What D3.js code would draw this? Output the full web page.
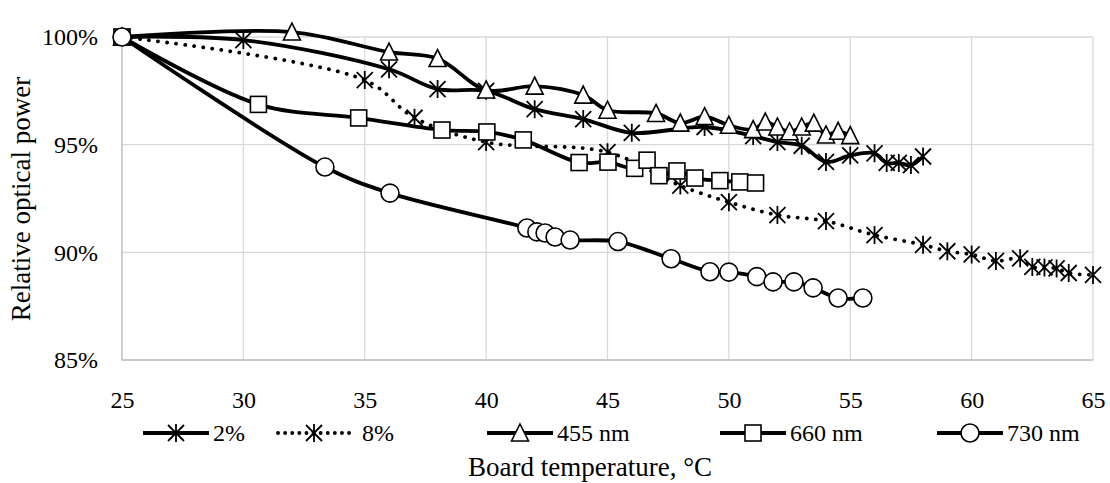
<!DOCTYPE html>
<html><head><meta charset="utf-8">
<script src="https://cdn.jsdelivr.net/npm/d3@7"></script>
<style>
html,body{margin:0;padding:0;background:#fff;}
svg text{font-family:"Liberation Serif","Times New Roman",serif;fill:#000;}
</style></head>
<body><svg id="c" width="1110" height="483"></svg>
<script>
// ---- data ----
const seriesNames = ["2%", "8%", "455 nm", "660 nm", "730 nm"];
const x2 = [25,30,36,38,40,42,44,46,49,51,52,53,54,55,56,56.5,57,57.5,58];
const y2 = [100,99.86,98.5,97.58,97.5,96.65,96.19,95.55,95.82,95.4,95.12,94.95,94.2,94.5,94.6,94.15,94.15,94.05,94.45];
const x8 = [25,35,37.05,40,45,48,50,52,54,56,58,59,60,61,62,62.5,63,63.5,64,65];
const y8 = [100,98.0,96.25,95.12,94.65,93.1,92.33,91.73,91.45,90.8,90.35,90.05,89.9,89.6,89.72,89.32,89.3,89.25,89.04,88.95];
const x455 = [25,32,36,38,40,42,44,45,47,48,49,50,51,51.5,52,52.5,53,53.5,54,54.5,55];
const y455 = [100,100.23,99.3,99.0,97.54,97.72,97.3,96.6,96.45,96.0,96.3,95.9,95.7,96.05,95.82,95.6,95.82,96.0,95.45,95.62,95.42];
const x660 = [25,30.62,34.75,38.18,40.03,41.53,43.83,45.02,46.12,46.63,47.12,47.86,48.6,49.63,50.45,51.1];
const y660 = [100,96.87,96.24,95.68,95.59,95.22,94.17,94.19,93.9,94.28,93.56,93.78,93.45,93.33,93.27,93.22];
const x730 = [25,33.36,36.04,41.68,42.09,42.43,42.84,43.46,45.43,47.62,49.22,50.0,51.15,51.82,52.68,53.47,54.5,55.52];
const y730 = [100,93.96,92.75,91.13,90.95,90.9,90.71,90.57,90.5,89.7,89.1,89.08,88.87,88.63,88.63,88.35,87.88,87.88];
const xTicks = [25,30,35,40,45,50,55,60,65];
const yTicks = [85,90,95,100];
const xTitle = "Board temperature, °C";
const yTitle = "Relative optical power";

const seriesX = [x2, x8, x455, x660, x730];
const seriesY = [y2, y8, y455, y660, y730];
const markers = ["star", "star", "triangle", "square", "circle"];
const dashed = [false, true, false, false, false];

// ---- layout ----
const L = 122, R = 1093, T = 37, B = 360;
const svg = d3.select("#c");
const x = d3.scaleLinear().domain([25, 65]).range([L, R]);
const y = d3.scaleLinear().domain([85, 100]).range([B, T]);

// gridlines
const g = svg.append("g");
g.selectAll(".hg").data(yTicks).join("line")
  .attr("x1", L).attr("x2", R).attr("y1", d => y(d)).attr("y2", d => y(d))
  .attr("stroke", "#d9d9d9").attr("stroke-width", 1.3);
g.selectAll(".vg").data(xTicks.slice(1)).join("line")
  .attr("x1", d => x(d)).attr("x2", d => x(d)).attr("y1", T).attr("y2", B)
  .attr("stroke", "#d9d9d9").attr("stroke-width", 1.3);
// axis lines
g.append("line").attr("x1", L).attr("x2", L).attr("y1", T).attr("y2", B).attr("stroke", "#bfbfbf").attr("stroke-width", 1.5);
g.append("line").attr("x1", L).attr("x2", R).attr("y1", B).attr("y2", B).attr("stroke", "#bfbfbf").attr("stroke-width", 1.5);

// axes via d3
const xAxis = d3.axisBottom(x).tickValues(xTicks).tickSize(0).tickPadding(0).tickFormat(d3.format("d"));
const xa = svg.append("g").attr("transform", `translate(0,${B})`).call(xAxis);
xa.select(".domain").remove();
xa.selectAll("text").attr("font-size", 24).attr("dy", null).attr("y", 48).attr("font-family", "Liberation Serif").attr("fill", "#000");

const yAxis = d3.axisLeft(y).tickValues(yTicks).tickSize(0).tickPadding(0).tickFormat(d => d + "%");
const ya = svg.append("g").attr("transform", `translate(${L},0)`).call(yAxis);
ya.select(".domain").remove();
ya.selectAll("text").attr("font-size", 24).attr("x", -24).attr("dy", "0.33em").attr("font-family", "Liberation Serif").attr("fill", "#000");

// titles
svg.append("text").attr("x", 590).attr("y", 476).attr("text-anchor", "middle").attr("font-size", 27).text(xTitle);
svg.append("text").attr("transform", "translate(30,199) rotate(-90)").attr("text-anchor", "middle").attr("font-size", 27).text(yTitle);

// marker drawing
function drawMarker(sel, type, cx, cy) {
  if (type === "circle") {
    sel.append("circle").attr("cx", cx).attr("cy", cy).attr("r", 9)
      .attr("fill", "#fff").attr("stroke", "#000").attr("stroke-width", 1.6);
  } else if (type === "square") {
    sel.append("rect").attr("x", cx - 8).attr("y", cy - 8).attr("width", 16).attr("height", 16)
      .attr("fill", "#fff").attr("stroke", "#000").attr("stroke-width", 1.6);
  } else if (type === "triangle") {
    const h = 16, w = 17;
    sel.append("path").attr("d", `M${cx},${cy - h / 2 - 1}L${cx + w / 2},${cy + h / 2}L${cx - w / 2},${cy + h / 2}Z`)
      .attr("fill", "#fff").attr("stroke", "#000").attr("stroke-width", 1.6);
  } else {
    const s = 8;
    sel.append("path").attr("d",
      `M${cx - s},${cy - s}L${cx + s},${cy + s}M${cx - s},${cy + s}L${cx + s},${cy - s}M${cx},${cy - s - 1}L${cx},${cy + s + 1}`)
      .attr("fill", "none").attr("stroke", "#000").attr("stroke-width", 1.8);
  }
}

const line = d3.line().x(d => x(d[0])).y(d => y(d[1])).curve(d3.curveCatmullRom.alpha(0.5));
const plot = svg.append("g");
seriesX.forEach((xs, i) => {
  const pts = xs.map((v, j) => [v, seriesY[i][j]]);
  const sg = plot.append("g");
  sg.append("path").attr("d", line(pts)).attr("fill", "none").attr("stroke", "#000")
    .attr("stroke-width", 3.8)
    .attr("stroke-linecap", dashed[i] ? "round" : "butt")
    .attr("stroke-dasharray", dashed[i] ? "0.1 9" : null);
  pts.forEach(p => drawMarker(sg, markers[i], x(p[0]), y(p[1])));
});

// legend
const legX = [143, 278, 487, 720, 937];
const legLen = [66, 72, 66, 66, 66];
const legGap = [4, 12, 4, 4, 4];
const legY = 433;
const lg = svg.append("g");
seriesNames.forEach((name, i) => {
  const x0 = legX[i], x1 = x0 + legLen[i], mid = (x0 + x1) / 2;
  lg.append("line").attr("x1", x0).attr("x2", x1).attr("y1", legY).attr("y2", legY)
    .attr("stroke", "#000").attr("stroke-width", 3.8)
    .attr("stroke-linecap", dashed[i] ? "round" : "butt")
    .attr("stroke-dasharray", dashed[i] ? "0.1 7" : null);
  drawMarker(lg, markers[i], mid, legY);
  lg.append("text").attr("x", x1 + legGap[i]).attr("y", legY).attr("dy", "0.35em").attr("font-size", 24).text(name);
});
</script></body></html>
